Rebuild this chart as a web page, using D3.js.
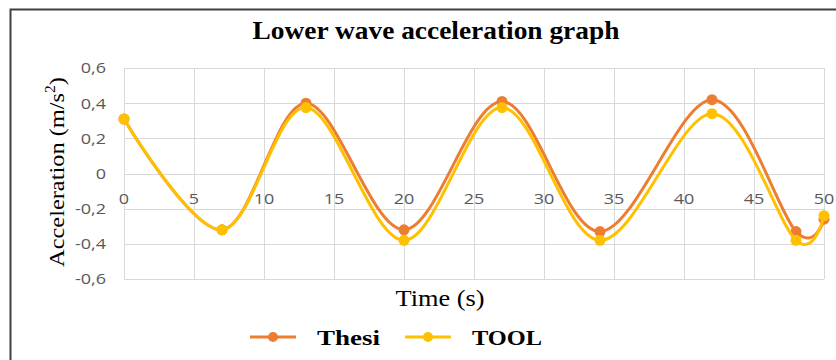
<!DOCTYPE html>
<html>
<head>
<meta charset="utf-8">
<script src="https://cdn.jsdelivr.net/npm/d3@7"></script>
<style>
  body { margin: 0; background: #fff; }
  svg { display: block; }
</style>
</head>
<body>
<svg width="836" height="360"></svg>
<script>
const times = [0, 7, 13, 20, 27, 34, 42, 48, 50];
const thesi = [0.31, -0.32, 0.40, -0.32, 0.41, -0.33, 0.42, -0.33, -0.26];
const tool = [0.31, -0.32, 0.375, -0.38, 0.375, -0.38, 0.34, -0.38, -0.24];
const xTicks = [0, 5, 10, 15, 20, 25, 30, 35, 40, 45, 50];
const yTicks = [-0.6, -0.4, -0.2, 0, 0.2, 0.4, 0.6];

const series = [
    { name: "Thesi", color: "#ED7D31", values: thesi },
    { name: "TOOL", color: "#FFC000", values: tool }
];

const svg = d3.select("svg");

const x = d3.scaleLinear().domain([0, 50]).range([124, 824]);
const y = d3.scaleLinear().domain([-0.6, 0.6]).range([279, 68]);

const fmt = d => d === 0 ? "0" : d3.format(".1f")(d).replace(".", ",").replace("−", "-");

// stretch a text horizontally so it spans the wanted width
function fitWidth(text, width, base) {
    const w = text.node().getBBox().width;
    text.attr("transform", `${base} scale(${width / w},1)`);
}

// chart frame (only top and left edges visible)
svg.append("path")
    .attr("d", "M10.5,360 L10.5,9.5 L836,9.5")
    .attr("fill", "none")
    .attr("stroke", "#404040")
    .attr("stroke-width", 2);

// grid
const grid = svg.append("g");
grid.selectAll(".hg")
    .data(yTicks)
    .enter()
    .append("line")
    .attr("x1", x(0)).attr("x2", x(50))
    .attr("y1", d => Math.round(y(d)) + 0.5)
    .attr("y2", d => Math.round(y(d)) + 0.5)
    .attr("stroke", "#d9d9d9");
grid.selectAll(".vg")
    .data(xTicks)
    .enter()
    .append("line")
    .attr("y1", y(0.6)).attr("y2", y(-0.6))
    .attr("x1", d => Math.round(x(d)) + 0.5)
    .attr("x2", d => Math.round(x(d)) + 0.5)
    .attr("stroke", "#d9d9d9");

// y tick labels
svg.append("g")
    .selectAll("text")
    .data(yTicks)
    .enter()
    .append("text")
    .attr("transform", d => `translate(106,${y(d)}) scale(1.2,1)`)
    .attr("dy", "0.36em")
    .attr("text-anchor", "end")
    .attr("font-family", "Open Sans, sans-serif")
    .attr("font-size", 15)
    .attr("fill", "#595959")
    .text(fmt);

// x tick labels (sitting under the zero line)
svg.append("g")
    .selectAll("text")
    .data(xTicks)
    .enter()
    .append("text")
    .attr("transform", d => `translate(${x(d)},${y(0) + 30}) scale(1.2,1)`)
    .attr("text-anchor", "middle")
    .attr("font-family", "Open Sans, sans-serif")
    .attr("font-size", 15)
    .attr("fill", "#595959")
    .text(d => d);

// lines
const line = d3.line()
    .x((d, i) => x(times[i]))
    .y(d => y(d))
    .curve(d3.curveCatmullRom.alpha(0));

const plot = svg.append("g");
series.forEach(s => {
    plot.append("path")
        .attr("d", line(s.values))
        .attr("fill", "none")
        .attr("stroke", s.color)
        .attr("stroke-width", 3)
        .attr("stroke-linecap", "round");
    plot.selectAll(null)
        .data(s.values)
        .enter()
        .append("circle")
        .attr("cx", (d, i) => x(times[i]))
        .attr("cy", d => y(d))
        .attr("r", 5.5)
        .attr("fill", s.color);
});

// title
const title = svg.append("text")
    .attr("text-anchor", "middle")
    .attr("font-family", "Liberation Serif, serif")
    .attr("font-weight", "bold")
    .attr("font-size", 25)
    .attr("fill", "#000")
    .text("Lower wave acceleration graph");
fitWidth(title, 367, "translate(436,39)");

// axis titles
const xTitle = svg.append("text")
    .attr("text-anchor", "middle")
    .attr("font-family", "Liberation Serif, serif")
    .attr("font-size", 23)
    .attr("fill", "#000")
    .text("Time (s)");
fitWidth(xTitle, 89, "translate(440,306)");

const yTitle = svg.append("text")
    .attr("text-anchor", "middle")
    .attr("font-family", "Liberation Serif, serif")
    .attr("font-size", 22)
    .attr("fill", "#000");
yTitle.append("tspan").text("Acceleration (m/s");
yTitle.append("tspan").attr("font-size", 14).attr("dy", -9).text("2");
yTitle.append("tspan").attr("dy", 9).text(")");
fitWidth(yTitle, 190, "translate(64,172) rotate(-90)");

// legend
const legendX = [250, 405];
const legendW = [63, 70];
const legend = svg.append("g")
    .selectAll("g")
    .data(series)
    .enter()
    .append("g")
    .attr("transform", (d, i) => `translate(${legendX[i]},337)`);
legend.append("line")
    .attr("x1", 0).attr("x2", 46)
    .attr("stroke", d => d.color)
    .attr("stroke-width", 3);
legend.append("circle")
    .attr("cx", 23)
    .attr("r", 5)
    .attr("fill", d => d.color);
legend.append("text")
    .attr("font-family", "Liberation Serif, serif")
    .attr("font-weight", "bold")
    .attr("font-size", 22)
    .attr("fill", "#000")
    .text(d => d.name)
    .each(function (d, i) {
        fitWidth(d3.select(this), legendW[i], "translate(67,8)");
    });
</script>
</body>
</html>
